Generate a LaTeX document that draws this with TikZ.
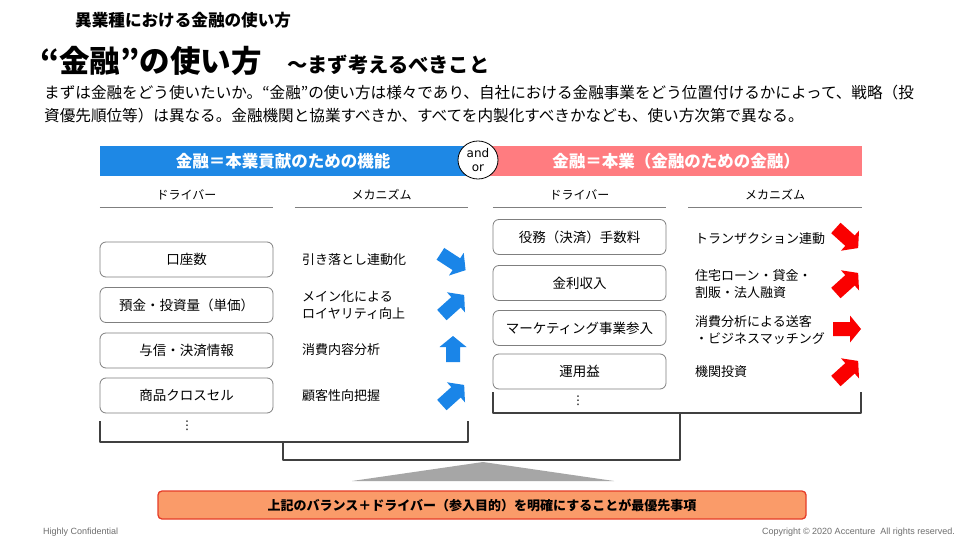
\documentclass[tikz,border=0pt]{standalone}
\usepackage{fontspec}
\setmainfont{Noto Sans CJK JP}
\newfontfamily\latinsans{Liberation Sans}
\newfontfamily\andfont{DejaVu Sans}
\usetikzlibrary{shapes.geometric}
\definecolor{barblue}{RGB}{30,136,229}
\definecolor{arrblue}{RGB}{26,133,232}
\definecolor{barred}{RGB}{255,124,128}
\definecolor{arrred}{RGB}{250,0,0}
\definecolor{boxgray}{RGB}{127,127,127}
\definecolor{brk}{RGB}{64,64,64}
\definecolor{orfill}{RGB}{250,155,105}
\definecolor{orline}{RGB}{230,60,40}
\definecolor{trigray}{RGB}{166,166,166}
\definecolor{footgray}{RGB}{110,110,110}
\newcommand{\blockarr}[5]{%
  \fill[#4, shift={(#1,#2)}, rotate=#3]
    (-#5,-7) -- (#5-11,-7) -- (#5-11,-13.5) -- (#5,0) -- (#5-11,13.5) -- (#5-11,7) -- (-#5,7) -- cycle;}
\begin{document}
\begin{tikzpicture}[x=1pt,y=-1pt,
  drvbox/.style={draw=boxgray, line width=0.8pt, rounded corners=6pt, minimum width=173pt, minimum height=35pt, inner sep=0pt, font=\fontsize{13.5}{16}\selectfont},
  mech/.style={anchor=west, align=left, inner sep=0pt, font=\fontsize{13}{17}\selectfont},
  colhead/.style={minimum width=173pt, minimum height=24pt, inner sep=0pt, font=\fontsize{12}{14}\selectfont},
  bartext/.style={text=white, minimum height=30pt, inner sep=0pt, font=\bfseries\fontsize{16.5}{20}\selectfont},
  bracket/.style={draw=brk, line width=2.5pt, line join=round},
  headline/.style={draw=boxgray, line width=0.8pt},
  dotsnode/.style={inner sep=0pt, font=\andfont\fontsize{12}{12}\selectfont},
  bodytext/.style={anchor=west, inner sep=0pt, font=\fontsize{15.6}{18}\selectfont}
]
\useasboundingbox (0,0) rectangle (960,540);
\fill[white] (0,0) rectangle (960,540);

% titles
\node[anchor=west, inner sep=0pt, font=\bfseries\fontsize{16.6}{18}\selectfont] (hdr) at (75,20) {異業種における金融の使い方};
\node[anchor=west, inner sep=0pt, font=\bfseries\fontsize{30.5}{32}\selectfont] (ttl) at (40,61) {“金融”の使い方};
\node[anchor=west, inner sep=0pt, font=\bfseries\fontsize{20.3}{22}\selectfont] (sub) at (287,65) {～まず考えるべきこと};
\node[bodytext] (b1) at (44,93) {まずは金融をどう使いたいか。“金融”の使い方は様々であり、自社における金融事業をどう位置付けるかによって、戦略（投};
\node[bodytext] (b2) at (44,116) {資優先順位等）は異なる。金融機関と協業すべきか、すべてを内製化すべきかなども、使い方次第で異なる。};

% bars
\node[bartext, fill=barblue, minimum width=366pt] (barL) at (283,161) {金融＝本業貢献のための機能};
\node[bartext, fill=barred, minimum width=372pt] (barR) at (676,161) {金融＝本業（金融のための金融）};
\node[ellipse, draw=black, fill=white, line width=0.8pt, minimum width=40pt, minimum height=38pt, inner sep=0pt, align=center, font=\andfont\fontsize{12}{14}\selectfont] (ao) at (478,160) {and\\or};

% column heads
\node[colhead] (hL1) at (186.5,195) {ドライバー};
\node[colhead] (hL2) at (381.5,195) {メカニズム};
\node[colhead] (hR1) at (579.5,195) {ドライバー};
\node[colhead] (hR2) at (775,195) {メカニズム};
\foreach \h in {hL1,hL2,hR1,hR2} \draw[headline] (\h.south west) -- (\h.south east);

% left drivers
\node[drvbox] (dL1) at (186.5,259.5) {口座数};
\node[drvbox] (dL2) at (186.5,305) {預金・投資量（単価）};
\node[drvbox] (dL3) at (186.5,350.5) {与信・決済情報};
\node[drvbox] (dL4) at (186.5,395.5) {商品クロスセル};
\node[dotsnode] (dotL) at (187,426) {⋮};

\node[mech] (mL1) at (302,260) {引き落とし連動化};
\node[mech] (mL2) at (302,305) {メイン化による\\ロイヤリティ向上};
\node[mech] (mL3) at (302,350) {消費内容分析};
\node[mech] (mL4) at (302,396) {顧客性向把握};

% right drivers
\node[drvbox] (dR1) at (579.5,237) {役務（決済）手数料};
\node[drvbox] (dR2) at (579.5,283) {金利収入};
\node[drvbox] (dR3) at (579.5,328) {マーケティング事業参入};
\node[drvbox] (dR4) at (579.5,371.5) {運用益};
\node[dotsnode] (dotR) at (578,401) {⋮};

\node[mech] (mR1) at (695,239) {トランザクション連動};
\node[mech] (mR2) at (695,284) {住宅ローン・貸金・\\割販・法人融資};
\node[mech] (mR3) at (695,330) {消費分析による送客\\・ビジネスマッチング};
\node[mech] (mR4) at (695,372) {機関投資};

% arrows
\blockarr{453}{262}{-33}{arrblue}{15}
\blockarr{453}{305}{42}{arrblue}{15}
\blockarr{453}{349}{90}{arrblue}{13}
\blockarr{453}{395}{42}{arrblue}{15}
\blockarr{847}{238}{-42}{arrred}{15}
\blockarr{847}{283}{42}{arrred}{15}
\blockarr{847}{329}{0}{arrred}{14}
\blockarr{847}{371}{42}{arrred}{15}

% brackets
\coordinate (bLa) at (100,421);
\coordinate (bLb) at (100,442);
\coordinate (bLc) at (468,442);
\coordinate (bLd) at (468,421);
\coordinate (bLm) at (283,442);
\coordinate (bRa) at (493,392);
\coordinate (bRb) at (493,413);
\coordinate (bRc) at (861,413);
\coordinate (bRd) at (861,392);
\coordinate (bRm) at (680,413);
\coordinate (jL) at (283,460);
\coordinate (jR) at (680,460);
\draw[bracket] (bLa) -- (bLb) -- (bLc) -- (bLd);
\draw[bracket] (bRa) -- (bRb) -- (bRc) -- (bRd);
\draw[bracket] (bLm) -- (jL) -- (jR) -- (bRm);

% triangle and conclusion
\fill[trigray] (483,462) -- (614,481) -- (352,481) -- cycle;
\node[fill=orfill, draw=orline, line width=1.3pt, rounded corners=4pt, minimum width=648pt, minimum height=28pt, inner sep=0pt, font=\bfseries\fontsize{13}{15}\selectfont] (concl) at (482,505) {上記のバランス＋ドライバー（参入目的）を明確にすることが最優先事項};

% footers
\node[anchor=west, inner sep=0pt, text=footgray, font=\latinsans\fontsize{9}{10}\selectfont] (fl) at (43,532) {Highly Confidential};
\node[anchor=east, inner sep=0pt, text=footgray, font=\latinsans\fontsize{9}{10}\selectfont] (fr) at (955,532) {Copyright © 2020 Accenture\ \ All rights reserved.};
\end{tikzpicture}
\end{document}
